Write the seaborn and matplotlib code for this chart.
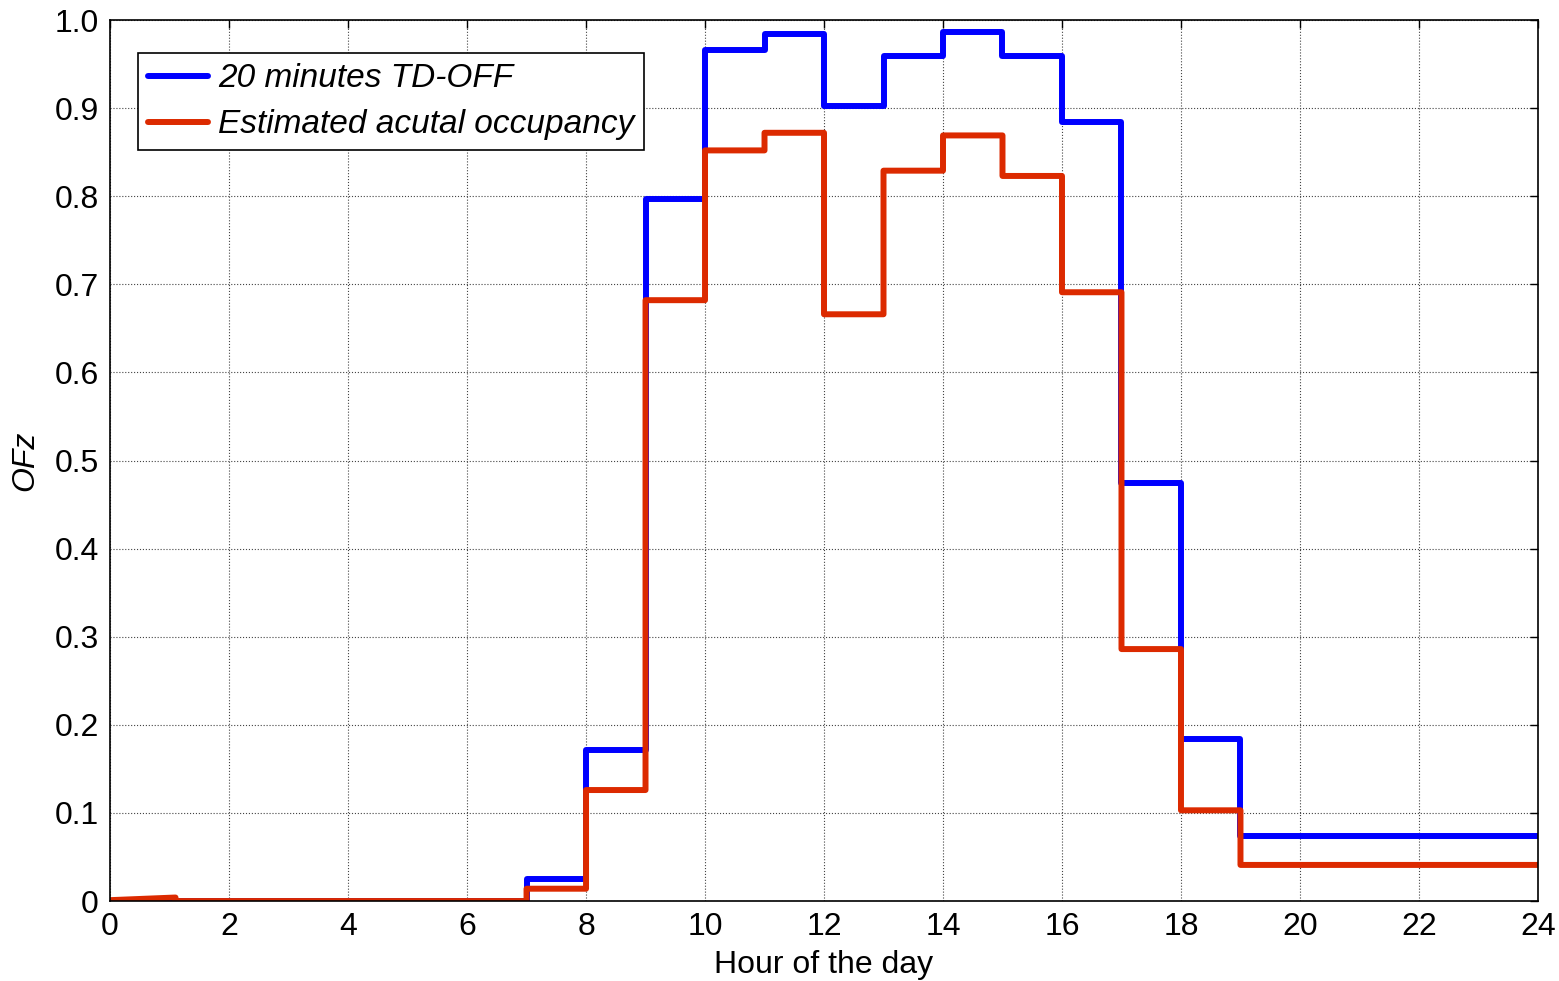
import numpy as np
import pandas as pd
import matplotlib
matplotlib.use("Agg")
import matplotlib.pyplot as plt
import seaborn as sns

# hourly values (hour h -> h+1)
hours = list(range(25))
td_off = [0, 0, 0, 0, 0, 0, 0, 0.025, 0.171, 0.797, 0.966, 0.984, 0.902,
          0.959, 0.986, 0.959, 0.884, 0.474, 0.184, 0.074, 0.074, 0.074, 0.074, 0.074]
actual = [0, 0, 0, 0, 0, 0, 0, 0.014, 0.126, 0.682, 0.852, 0.872, 0.666,
          0.829, 0.869, 0.823, 0.691, 0.286, 0.103, 0.041, 0.041, 0.041, 0.041, 0.041]
# small ramp at the very start of the red curve
actual_lead_x = [0.0, 1.1]
actual_lead_y = [0.001, 0.004]

xticks = list(range(0, 25, 2))
yticks = [0, 0.1, 0.2, 0.3, 0.4, 0.5, 0.6, 0.7, 0.8, 0.9, 1.0]
ytick_labels = ["0", "0.1", "0.2", "0.3", "0.4", "0.5", "0.6", "0.7", "0.8", "0.9", "1.0"]


def step_frame(edges, vals):
    xs = np.repeat(edges, 2)[1:-1]
    ys = np.repeat(vals, 2)
    return pd.DataFrame({"hour": xs, "ofz": ys})


blue_df = step_frame(hours, td_off)
red_df = step_frame(hours, actual)
red_df = red_df[red_df["hour"] >= actual_lead_x[1]]
lead = pd.DataFrame({"hour": actual_lead_x + [actual_lead_x[1]],
                     "ofz": actual_lead_y + [0.0]})
red_df = pd.concat([lead, red_df], ignore_index=True)

sns.set_style("white")
plt.rcParams["font.family"] = ["Liberation Sans", "DejaVu Sans"]
plt.rcParams["text.color"] = "black"
plt.rcParams["axes.labelcolor"] = "black"

fig = plt.figure(figsize=(15.59, 9.81), dpi=100)
ax = fig.add_axes([0.0706, 0.0815, 0.9159, 0.8981])

sns.lineplot(data=blue_df, x="hour", y="ofz", ax=ax, estimator=None, sort=False,
             color="#0000ff", linewidth=4.3, label="20 minutes TD-OFF")
sns.lineplot(data=red_df, x="hour", y="ofz", ax=ax, estimator=None, sort=False,
             color="#dc2a00", linewidth=4.3, label="Estimated acutal occupancy")

ax.set_xlim(0, 24)
ax.set_ylim(0, 1.0)
ax.set_xticks(xticks)
ax.set_yticks(yticks)
ax.set_yticklabels(ytick_labels)
ax.tick_params(direction="in", length=6, width=1, top=True, right=True,
               labelsize=23, pad=8, colors="black")

ax.grid(True, linestyle=":", linewidth=0.8, color="#444444")
for s in ax.spines.values():
    s.set_color("black")
    s.set_linewidth(1.2)

ax.set_xlabel("Hour of the day", fontsize=23, labelpad=6)
ax.set_ylabel("OFz", fontsize=23, style="italic", labelpad=10)

leg = ax.legend(loc="upper left", bbox_to_anchor=(0.0196, 0.962), fontsize=24,
                frameon=True, fancybox=False, handlelength=1.8, handletextpad=0.3,
                borderpad=0.3, labelspacing=0.45, borderaxespad=0)
leg.get_frame().set_edgecolor("black")
leg.get_frame().set_linewidth(1.2)
leg.get_frame().set_alpha(1)
for t in leg.get_texts():
    t.set_style("italic")

fig.savefig("out.png", dpi=100)
